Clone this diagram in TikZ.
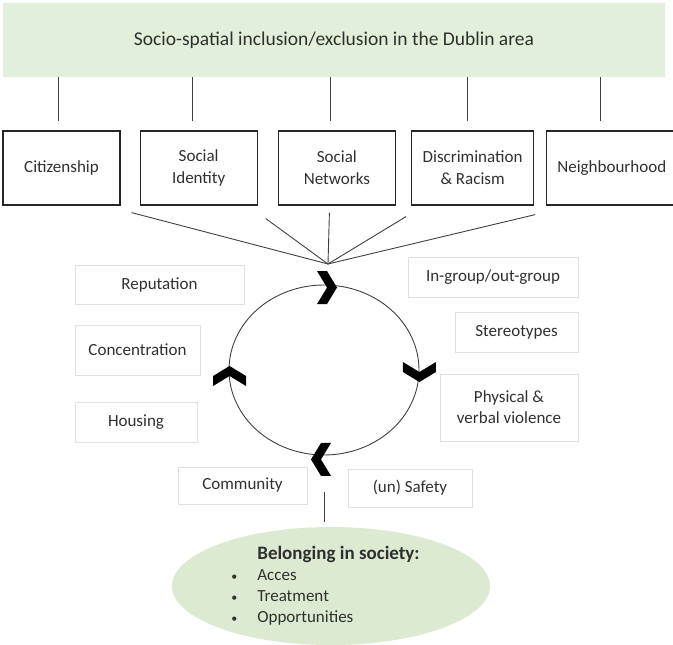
\documentclass[tikz,border=0pt]{standalone}
\usepackage{fontspec}
\setmainfont{Carlito}
\usetikzlibrary{shapes.geometric,positioning}

\definecolor{sage}{HTML}{E2EFDA}
\definecolor{sagedeep}{HTML}{DCEAD2}
\definecolor{inkgray}{HTML}{303030}

\newcommand\dotitem{\makebox[25pt][l]{\hspace*{-1pt}\fontsize{12}{12}\selectfont\textbullet}}

\begin{document}
\begin{tikzpicture}[
  x=1pt,y=-1pt,
  font=\fontsize{17}{22}\selectfont,
  text=inkgray,
  node distance=19pt,
  theme/.style={draw=black!85,line width=1.2pt,minimum width=117pt,minimum height=74pt,align=center,inner sep=2pt},
  factor/.style={draw=black!12,line width=0.8pt,align=center,inner sep=2pt},
  link/.style={draw=black!75,line width=0.9pt},
  ring/.style={ellipse,draw=black!75,line width=0.9pt,minimum width=190pt,minimum height=170pt,inner sep=0pt},
  chev/.pic={\fill[black] (-10,-16.5) -- (0,-16.5) -- (10,0) -- (0,16.5) -- (-10,16.5) -- (0,0) -- cycle;}
]
\useasboundingbox (0,0) rectangle (673,645);

\node[fill=sage,minimum width=662pt,minimum height=74pt,font=\fontsize{19.5}{24}\selectfont] (title) at (334,40) {Socio-spatial inclusion/exclusion in the Dublin area};

% the five themes
\node[theme] (cit) at (61.5,168) {Citizenship};
\node[theme,right=of cit] (sid) {Social\\Identity};
\node[theme,right=20pt of sid] (snw) {Social\\Networks};
\node[theme,right=15pt of snw,minimum width=122pt] (dis) {Discrimination\\\& Racism};
\node[theme,right=12pt of dis,minimum width=130pt] (nbh) {Neighbourhood};

\foreach \x/\b in {58/cit,192/sid,330/snw,467/dis,600/nbh}
  \draw[link,shorten >=9pt] (title.south -| \x,0) -- (\b.north -| \x,0);

\coordinate (hub) at (328,264);
\foreach \b/\dx/\dy in {cit.south east/11/7,sid.south east/8/13,snw.south/-7.5/7,dis.south west/-5/11,dis.south east/1/9}
  \draw[link] ([shift={(\dx,\dy)}]\b) -- (hub);

% cycle with its four chevrons
\node[ring] (cycle) at (324,370) {};
\pic at ([shift={(3,3)}]cycle.north) {chev};
\pic[rotate=-90] at ([shift={(0,2)}]cycle.east) {chev};
\pic[rotate=180] at ([shift={(-3,4)}]cycle.south) {chev};
\pic[rotate=90] at ([shift={(1,6)}]cycle.west) {chev};

% factors round the cycle
\node[factor,minimum width=169pt,minimum height=39pt] (rep) at (159.5,284.5) {Reputation};
\node[factor,minimum width=125pt,minimum height=50pt] (con) at (137.5,350) {Concentration};
\node[factor,minimum width=122pt,minimum height=40pt] (hou) at (136,422) {Housing};
\node[factor,minimum width=129pt,minimum height=37pt] (com) at (242.5,485.5) {Community};
\node[factor,minimum width=124pt,minimum height=38pt] (saf) at (410,488) {(un) Safety};
\node[factor,minimum width=170pt,minimum height=40pt] (igp) at (493,277) {In-group/out-group};
\node[factor,minimum width=123pt,minimum height=40pt] (ste) at (516.5,332) {Stereotypes};
\node[factor,minimum width=138pt,minimum height=67pt,font=\fontsize{17}{21}\selectfont] (vio) at (509,407.5) {Physical \&\\verbal violence};

\node[ellipse,fill=sagedeep,minimum width=318pt,minimum height=118pt,inner sep=0pt,align=left,font=\fontsize{17}{21}\selectfont] (belong) at (331,586)
  {{\bfseries\fontsize{19}{21}\selectfont\hspace*{25pt}Belonging in society:}\hspace*{10pt}\\
   \dotitem Acces\\
   \dotitem Treatment\\
   \dotitem Opportunities};

\draw[link,shorten <=37pt,shorten >=5pt] (cycle.south) -- (cycle.south |- belong.north);
\end{tikzpicture}
\end{document}
